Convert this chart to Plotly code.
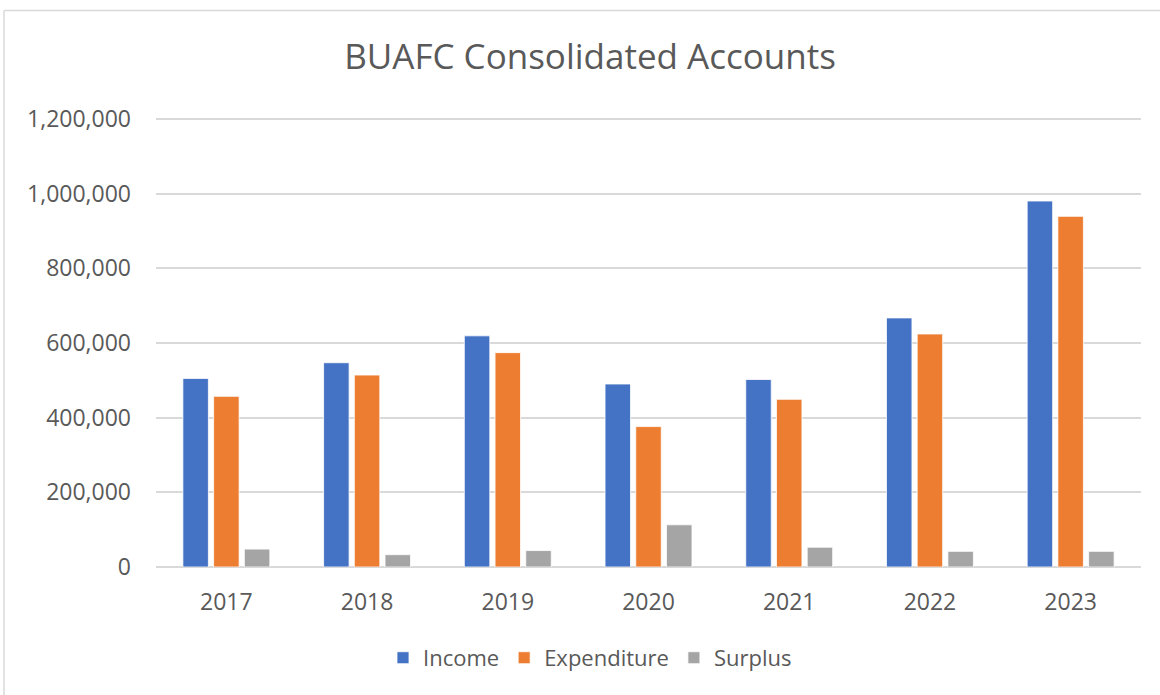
import plotly.graph_objects as go

years = ["2017", "2018", "2019", "2020", "2021", "2022", "2023"]
income = [505000, 547000, 619000, 490000, 502000, 667000, 980000]
expenditure = [457000, 514000, 574000, 376000, 449000, 624000, 939000]
surplus = [48000, 33000, 44000, 113000, 53000, 42000, 42000]

y_ticks = [0, 200000, 400000, 600000, 800000, 1000000, 1200000]
y_tick_text = ["0", "200,000", "400,000", "600,000", "800,000", "1,000,000", "1,200,000"]

W, H = 1160, 695
L, R, T, B = 156, 19, 116.6, 128
pw, ph = W - L - R, H - T - B

def px_x(x):
    return (x - L) / pw

def px_y(y):
    return (H - B - y) / ph

FONT = "Open Sans"
TXT = "#595959"
GRID = "#D9D9D9"

fig = go.Figure()
for name, vals, col in [("Income", income, "#4472C4"),
                        ("Expenditure", expenditure, "#ED7D31"),
                        ("Surplus", surplus, "#A5A5A5")]:
    fig.add_trace(go.Bar(x=years, y=vals, name=name, marker_color=col,
                         marker_line=dict(color="white", width=0.8)))

fig.update_layout(
    width=W, height=H,
    margin=dict(l=L, r=R, t=T, b=B, autoexpand=False),
    paper_bgcolor="white", plot_bgcolor="white",
    barmode="group", bargap=0.345, bargroupgap=0.17,
    title=dict(text="BUAFC Consolidated Accounts", x=590 / W, xanchor="center",
               xref="container", yref="container", y=1 - 57 / H, yanchor="middle",
               font=dict(family=FONT, size=35, color=TXT)),
    font=dict(family=FONT, color=TXT),
    showlegend=True,
    legend=dict(orientation="h", x=px_x(590), xanchor="center", y=px_y(658), yanchor="middle",
                font=dict(family=FONT, size=22, color=TXT), traceorder="normal",
                itemwidth=30),
    xaxis=dict(showgrid=False, showline=False, ticks="", tickfont=dict(size=23, color=TXT),
               ticklabelstandoff=19, fixedrange=True),
    yaxis=dict(range=[0, 1205000], tickvals=y_ticks, ticktext=y_tick_text,
               showgrid=True, gridcolor=GRID, gridwidth=1.5,
               zeroline=True, zerolinecolor=GRID, zerolinewidth=1.5,
               ticks="", tickfont=dict(size=23, color=TXT), ticklabelstandoff=24,
               showline=False, fixedrange=True),
    shapes=[
        dict(type="line", xref="paper", yref="paper", x0=px_x(4), x1=px_x(1170),
             y0=px_y(10), y1=px_y(10), line=dict(color=GRID, width=1.5)),
        dict(type="line", xref="paper", yref="paper", x0=px_x(4), x1=px_x(4),
             y0=px_y(10), y1=px_y(705), line=dict(color=GRID, width=1.5)),
    ],
)

fig.write_html("out.html", config={"displayModeBar": False},
               post_script="document.body.style.margin='0';")
